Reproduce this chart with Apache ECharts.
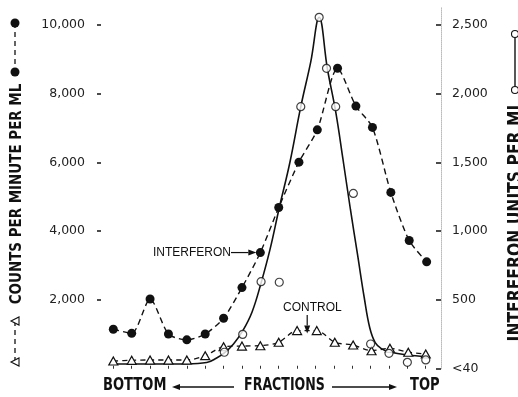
<!DOCTYPE html>
<html>
<head>
<meta charset="utf-8">
<script src="https://cdn.jsdelivr.net/npm/echarts@6/dist/echarts.min.js"></script>
<style>
html,body{margin:0;padding:0;background:#fff;}
#c{width:518px;height:397px;}
</style>
</head>
<body>
<div id="c"></div>
<script>
// ---- data (fraction number on x) ----
const fractions = [1,2,3,4,5,6,7,8,9,10,11,12,13,14,15,16,17,18];
// counts per minute per ml (left axis), filled circles
const countsX = [1,2,3,4,5,6,7,8,9,10,11.1,12.1,13.2,14.2,15.1,16.1,17.1,18.05];
const countsY = [1150,1030,2030,1010,840,1010,1470,2360,3380,4690,6010,6950,8740,7640,7020,5130,3730,3110];
// control counts (left axis), open triangles
const controlX = [1,2,3,4,5,6,7,8,9,10,11,12.07,13.05,14.05,15.05,16.05,17.05,18];
const controlY = [225,245,255,255,255,380,640,660,670,770,1110,1110,770,690,525,595,480,430];
// interferon units per ml (right axis), open circles
const ifnX = [7.04,8.04,9.04,10.03,11.2,12.2,12.6,13.1,14.06,15.0,16.0,17.0,18.0];
const ifnY = [120,250,633,629,1906,2556,2185,1906,1275,180,112,47,64];
// fitted interferon curve (right axis), solid line
const curveX = [1,5,6.08,6.6,7.06,7.54,8.04,8.55,9.04,9.53,10.03,10.61,11.2,11.74,12.2,12.65,13.1,13.5,13.9,14.3,14.65,14.95,15.25,15.6,16.1,17,18];
const curveY = [35,35,45,76,117,180,275,413,624,870,1171,1502,1906,2230,2556,2180,1870,1520,1160,820,520,300,190,145,120,100,88];
// axis tick labels
const leftTicks = [2000,4000,6000,8000,10000];
const rightTicks = [0,500,1000,1500,2000,2500];
const rightZeroLabel = '<40';

const zip = (xs, ys) => xs.map((x, i) => [x, ys[i]]);
const fmt = v => v.toLocaleString('en-US');
const INK = '#111';
const numFont = "'DejaVu Sans', sans-serif";
const boldFont = "'DejaVu Sans', sans-serif";

const chart = echarts.init(document.getElementById('c'), null, {renderer: 'canvas'});

const gridTop = 7.8, gridBottom = 28.25;
chart.setOption({
  backgroundColor: '#fff',
  animation: false,
  grid: {left: 101, right: 77, top: gridTop, bottom: gridBottom, containLabel: false},
  xAxis: {
    type: 'value', min: 0.33, max: 18.83,
    axisLine: {show: false},
    splitLine: {show: false},
    axisLabel: {show: false},
    axisTick: {show: true, inside: true, length: 3, customValues: fractions, lineStyle: {color: '#333', width: 1}}
  },
  yAxis: [
    {
      type: 'value', min: 0, max: 10500, position: 'left',
      axisLine: {show: false},
      splitLine: {show: false},
      axisTick: {show: true, length: 4, customValues: leftTicks, lineStyle: {color: INK, width: 1.5}},
      axisLabel: {customValues: leftTicks, formatter: v => fmt(v), margin: 16, color: '#222', fontSize: 12.5, fontFamily: numFont}
    },
    {
      type: 'value', min: 0, max: 2625, position: 'right',
      axisLine: {show: true, lineStyle: {color: '#bbb', type: 'dotted', width: 1}},
      splitLine: {show: false},
      axisTick: {show: true, inside: true, length: 5, customValues: rightTicks, lineStyle: {color: INK, width: 1.5}},
      axisLabel: {customValues: rightTicks, formatter: v => v === 0 ? rightZeroLabel : fmt(v), margin: 11, color: '#222', fontSize: 12.5, fontFamily: numFont}
    }
  ],
  series: [
    {
      name: 'curve', type: 'line', yAxisIndex: 1, data: zip(curveX, curveY),
      smooth: 0.4, symbol: 'none',
      lineStyle: {color: INK, width: 1.6}, z: 2
    },
    {
      name: 'control', type: 'line', yAxisIndex: 0, data: zip(controlX, controlY),
      smooth: 0.3, symbol: 'triangle', symbolSize: [9, 8],
      itemStyle: {color: '#fff', borderColor: INK, borderWidth: 1.2},
      lineStyle: {color: INK, width: 1.3, type: [5, 4]}, z: 3
    },
    {
      name: 'counts', type: 'line', yAxisIndex: 0, data: zip(countsX, countsY),
      smooth: 0.25, symbol: 'circle', symbolSize: 9,
      itemStyle: {color: INK, borderColor: INK, borderWidth: 0},
      lineStyle: {color: INK, width: 1.4, type: [6, 4]}, z: 4
    },
    {
      name: 'interferon', type: 'scatter', yAxisIndex: 1, data: zip(ifnX, ifnY),
      symbol: 'circle', symbolSize: 8,
      itemStyle: {color: '#fff', borderColor: INK, borderWidth: 1.2}, z: 5
    }
  ]
});

// ---- annotations & decorations ----
const px = (x, y, axis) => chart.convertToPixel({xAxisIndex: 0, yAxisIndex: axis}, [x, y]);
const g = [];
function arrow(x1, y1, x2, y2, w) {
  const ang = Math.atan2(y2 - y1, x2 - x1);
  const L = 8, H = 3;
  const bx = x2 - L * Math.cos(ang), by = y2 - L * Math.sin(ang);
  g.push({type: 'line', shape: {x1, y1, x2: bx, y2: by}, style: {stroke: INK, lineWidth: w || 1.3}, silent: true});
  g.push({type: 'polygon', shape: {points: [[x2, y2],
    [bx + H * Math.sin(ang), by - H * Math.cos(ang)],
    [bx - H * Math.sin(ang), by + H * Math.cos(ang)]]}, style: {fill: INK}, silent: true});
}
function text(str, x, y, opt) {
  g.push(Object.assign({type: 'text', x, y, silent: true,
    style: Object.assign({text: str, fill: INK, align: 'left', verticalAlign: 'middle'}, opt.style || {})},
    opt.extra || {}));
}
// INTERFERON label -> points at fraction 9 counts
const p9 = px(countsX[8], countsY[8], 0);
text('INTERFERON', 153, p9[1], {style: {font: "12px 'Liberation Sans', Arial, sans-serif"}});
arrow(231, p9[1], p9[0] - 4, p9[1], 1.2);
// CONTROL label -> arrow to dashed control peak
const pc = px(11.55, 1110, 0);
text('CONTROL', 283, 308, {style: {font: "12px 'Liberation Sans', Arial, sans-serif"}});
arrow(pc[0], 315, pc[0], pc[1] + 3, 1.2);

// bottom labels (condensed by horizontal scale)
const by = 386;
const cond = 0.77;
text('BOTTOM', 103, by, {style: {font: "bold 17px " + boldFont}, extra: {scaleX: cond}});
arrow(234, by + 1, 172, by + 1, 1.3);
text('FRACTIONS', 284.5, by, {style: {font: "bold 17px " + boldFont, align: 'center'}, extra: {scaleX: 0.74}});
arrow(332, by + 1, 397, by + 1, 1.3);
text('TOP', 410, by, {style: {font: "bold 17px " + boldFont}, extra: {scaleX: cond}});

// left axis title
text('COUNTS PER MINUTE PER ML', 17, 194, {style: {font: "bold 16px " + boldFont, align: 'center'}, extra: {rotation: Math.PI / 2, scaleX: 0.84}});
// right axis title (cut by the right edge, as in the original)
text('INTERFERON UNITS PER ML', 516, 221, {style: {font: "bold 19px " + boldFont, align: 'center'}, extra: {rotation: Math.PI / 2, scaleX: 0.82}});

// left legend: filled circles with dashed line
g.push({type: 'line', shape: {x1: 15, y1: 23, x2: 15, y2: 72}, style: {stroke: INK, lineWidth: 1.3, lineDash: [5, 4]}, silent: true});
g.push({type: 'circle', shape: {cx: 15, cy: 23, r: 4.5}, style: {fill: INK}, silent: true});
g.push({type: 'circle', shape: {cx: 15, cy: 72, r: 4.5}, style: {fill: INK}, silent: true});
// left legend: open triangles with dashed line
g.push({type: 'line', shape: {x1: 15, y1: 321, x2: 15, y2: 362}, style: {stroke: INK, lineWidth: 1.3, lineDash: [5, 4]}, silent: true});
[321, 362].forEach(y => g.push({type: 'polygon', shape: {points: [[11, y], [19, y - 4], [19, y + 4]]}, style: {fill: '#fff', stroke: INK, lineWidth: 1.1}, silent: true}));
// right legend: open circles with solid line
g.push({type: 'line', shape: {x1: 515, y1: 34, x2: 515, y2: 90}, style: {stroke: INK, lineWidth: 1.4}, silent: true});
[34, 90].forEach(y => g.push({type: 'circle', shape: {cx: 515, cy: y, r: 3.5}, style: {fill: '#fff', stroke: INK, lineWidth: 1.1}, silent: true}));

chart.setOption({graphic: {elements: g}});
</script>
</body>
</html>
